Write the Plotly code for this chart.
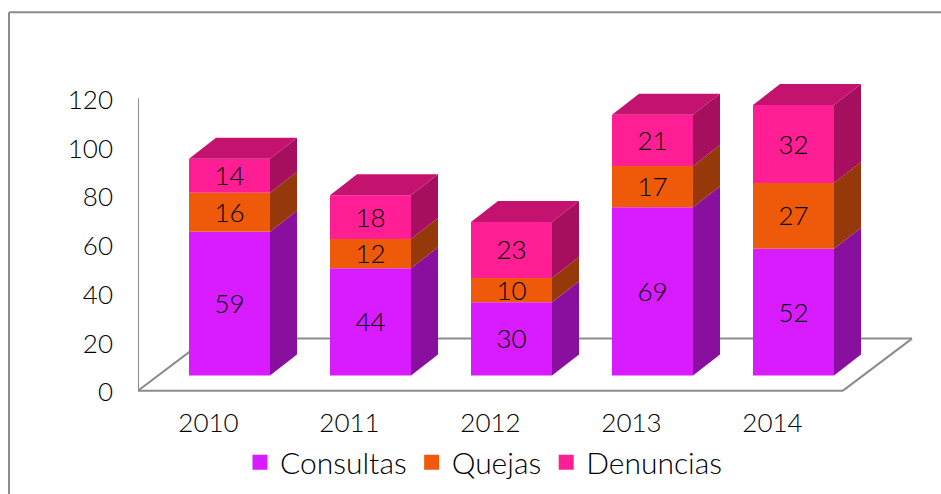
import plotly.graph_objects as go

years = ["2010", "2011", "2012", "2013", "2014"]
consultas = [59, 44, 30, 69, 52]
quejas = [16, 12, 10, 17, 27]
denuncias = [14, 18, 23, 21, 32]
series_names = ["Consultas", "Quejas", "Denuncias"]
front_colors = ["#D81BFF", "#EE5A0A", "#FF1E94"]
side_colors = ["#890F9F", "#96390A", "#A50F5E"]
top_color = "#C4136F"
y_ticks = [0, 20, 40, 60, 80, 100, 120]

W, H = 941, 494
L, R_PX = 138.0, 941.0
BOTTOM, UNIT = 390.5, 2.4333
STEP = 141.0
FONT = dict(family="Lato, 'Open Sans', sans-serif", size=26, color="#000000", weight=300)
LEGEND_FONT = dict(FONT, size=30)
GREY = "#8C8C8C"

x_lo = -0.5
x_hi = (R_PX - L) / STEP - 0.5
y_lo, y_hi = -10.0, 130.0
shift = 0.149          # bars stand forward of the axis category centre
bar_w = 81 / STEP
depth_x = 27 / STEP
depth_y = 21 / UNIT
lift = 15.2 / UNIT     # front edge of the bars above the chart's front floor edge
floor_dx = 69 / STEP
floor_dy = 52 / UNIT
label_drop = 3 / UNIT  # optical centring of the value labels
tick_drop = 1.5 / UNIT # optical centring of the value-axis labels

xpos = list(range(len(years)))
all_values = [consultas, quejas, denuncias]

fig = go.Figure()

bases = [lift] * len(years)
for name, vals, fc, sc in zip(series_names, all_values, front_colors, side_colors):
    cx = [i + shift for i in xpos]
    fig.add_trace(go.Bar(
        x=cx, y=vals, base=list(bases), width=bar_w, name=name,
        marker=dict(color=fc, line=dict(width=0)), showlegend=False, hoverinfo="skip",
    ))
    for c, v, b in zip(cx, vals, bases):
        xr = c + bar_w / 2
        fig.add_trace(go.Scatter(
            x=[xr, xr + depth_x, xr + depth_x, xr, xr],
            y=[b, b + depth_y, b + v + depth_y, b + v, b],
            mode="lines", fill="toself", fillcolor=sc, line=dict(width=0),
            showlegend=False, hoverinfo="skip",
        ))
    fig.add_trace(go.Scatter(
        x=cx, y=[b + v / 2 - label_drop for b, v in zip(bases, vals)], text=[str(v) for v in vals],
        mode="text", textposition="middle center", textfont=FONT,
        showlegend=False, hoverinfo="skip",
    ))
    bases = [b + v for b, v in zip(bases, vals)]

for i, b in zip(xpos, bases):
    xl = i + shift - bar_w / 2
    xr = i + shift + bar_w / 2
    fig.add_trace(go.Scatter(
        x=[xl, xr, xr + depth_x, xl + depth_x, xl],
        y=[b, b, b + depth_y, b + depth_y, b],
        mode="lines", fill="toself", fillcolor=top_color, line=dict(width=0),
        showlegend=False, hoverinfo="skip",
    ))

# Legend keys
for name, fc in zip(series_names, front_colors):
    fig.add_trace(go.Scatter(
        x=[None], y=[None], name=name, mode="markers",
        marker=dict(symbol="square", size=15, color=fc, line=dict(width=0)),
    ))

x_right = x_lo + 5
wall_shapes = [
    dict(x0=x_lo, x1=x_lo, y0=0, y1=120),
    dict(x0=x_lo, x1=x_right, y0=0, y1=0),
    dict(x0=x_right, x1=x_right + floor_dx, y0=0, y1=floor_dy),
    dict(x0=x_lo + floor_dx, x1=x_right + floor_dx, y0=floor_dy, y1=floor_dy),
    dict(x0=x_lo, x1=x_lo + floor_dx, y0=0, y1=floor_dy),
]
shapes = [dict(type="line", xref="x", yref="y", layer="below", line=dict(color=GREY, width=2), **s)
          for s in wall_shapes]

plot_w = W - L
plot_h = (y_hi - y_lo) * UNIT
top_margin = BOTTOM - y_hi * UNIT
bottom_margin = H - (BOTTOM - y_lo * UNIT)
px_x = lambda p: (p - L) / plot_w
px_y = lambda p: (BOTTOM - y_lo * UNIT - p) / plot_h
shapes += [
    dict(type="line", xref="paper", yref="paper", x0=px_x(9), x1=px_x(941), y0=px_y(12.5), y1=px_y(12.5),
         line=dict(color=GREY, width=2)),
    dict(type="line", xref="paper", yref="paper", x0=px_x(9), x1=px_x(9), y0=px_y(12.5), y1=px_y(494),
         line=dict(color=GREY, width=2)),
]

fig.update_layout(
    width=W, height=H, autosize=False,
    margin=dict(l=L, r=W - R_PX, t=top_margin, b=bottom_margin, pad=0),
    paper_bgcolor="white", plot_bgcolor="rgba(0,0,0,0)",
    barmode="overlay", font=FONT, shapes=shapes, hovermode=False,
    xaxis=dict(range=[x_lo, x_hi], tickmode="array", tickvals=xpos, ticktext=years,
               showgrid=False, zeroline=False, showline=False, ticks="", ticklabelstandoff=-10, tickfont=FONT),
    yaxis=dict(range=[y_lo, y_hi], tickmode="array", tickvals=[v - tick_drop for v in y_ticks],
               ticktext=[str(v) for v in y_ticks],
               showgrid=False, zeroline=False, showline=False, ticks="", ticklabelstandoff=24, tickfont=FONT),
    legend=dict(orientation="h", x=px_x(240), xanchor="left", y=px_y(436), yanchor="top",
                bgcolor="rgba(0,0,0,0)", font=LEGEND_FONT, itemwidth=30, traceorder="normal"),
)

fig.write_html("out.html", config=dict(displayModeBar=False),
               post_script="document.body.style.margin='0';document.body.style.overflow='hidden';")
